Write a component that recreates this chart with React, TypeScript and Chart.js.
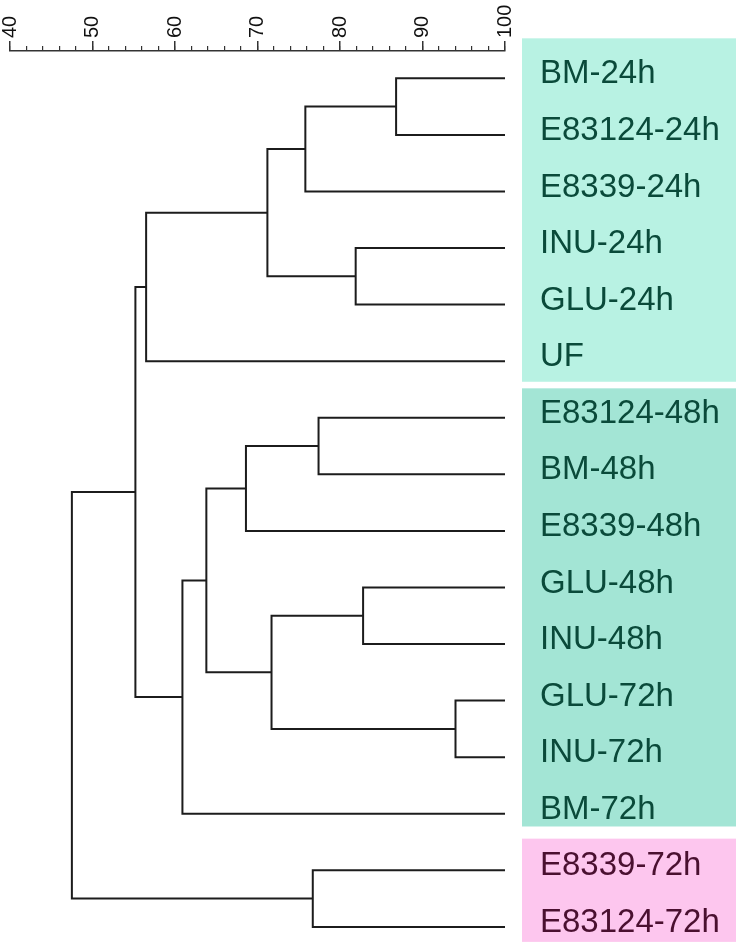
import React, { useEffect, useRef } from "react";
import { Chart, registerables } from "chart.js";

Chart.register(...registerables);

// ---- data ----
const leafLabels = [
  "BM-24h",
  "E83124-24h",
  "E8339-24h",
  "INU-24h",
  "GLU-24h",
  "UF",
  "E83124-48h",
  "BM-48h",
  "E8339-48h",
  "GLU-48h",
  "INU-48h",
  "GLU-72h",
  "INU-72h",
  "BM-72h",
  "E8339-72h",
  "E83124-72h",
];
// merge k creates node id 16 + k from children mergeLeft[k] and mergeRight[k]
const mergeLeft = [0, 16, 3, 17, 19, 6, 21, 9, 11, 23, 22, 26, 20, 14, 28];
const mergeRight = [1, 2, 4, 18, 5, 7, 8, 10, 12, 24, 25, 13, 27, 15, 29];
const mergeSimilarity = [86.8, 75.8, 81.9, 71.2, 56.5, 77.4, 68.6, 82.8, 94.0, 71.7, 63.8, 60.9, 55.2, 76.7, 47.5];
const leafSimilarity = 100;
const majorTickValues = [40, 50, 60, 70, 80, 90, 100];
const minorTickStep = 2;
// group membership (leaf index ranges) for the coloured label panels
const groupFirstLeaf = [0, 6, 14];
const groupLastLeaf = [5, 13, 15];

// ---- styles ----
const FONT = "'Liberation Sans', Arial, Helvetica, sans-serif";
const groupFill = ["#b8f2e3", "#a3e5d5", "#fdc6ee"];
const groupText = ["#0a4a3a", "#0a4a3a", "#4a1030"];
const groupPadTop = [0.707, 0.52, 0.56];
const groupPadBottom = [0.364, 0.225, 0.265];
const PANEL_LEFT = 522;
const PANEL_RIGHT = 736;

function buildLinks() {
  const pos: { x: number; y: number }[] = leafLabels.map((_, i) => ({ x: leafSimilarity, y: i }));
  const links: { x: number; y: number }[][] = [];
  for (let k = 0; k < mergeLeft.length; k++) {
    const a = pos[mergeLeft[k]];
    const b = pos[mergeRight[k]];
    const h = mergeSimilarity[k];
    links.push([
      { x: a.x, y: a.y },
      { x: h, y: a.y },
      { x: h, y: b.y },
      { x: b.x, y: b.y },
    ]);
    pos.push({ x: h, y: (a.y + b.y) / 2 });
  }
  return links;
}

function groupOfLeaf(i: number) {
  for (let g = 0; g < groupFirstLeaf.length; g++) {
    if (i >= groupFirstLeaf[g] && i <= groupLastLeaf[g]) return g;
  }
  return 0;
}

const panelPlugin = {
  id: "panels",
  beforeDraw(chart: any) {
    const ctx = chart.ctx;
    const y = chart.scales.y;
    ctx.save();
    for (let g = 0; g < groupFirstLeaf.length; g++) {
      const top = y.getPixelForValue(groupFirstLeaf[g] - groupPadTop[g]);
      const bottom = y.getPixelForValue(groupLastLeaf[g] + groupPadBottom[g]);
      ctx.fillStyle = groupFill[g];
      ctx.fillRect(PANEL_LEFT, top, PANEL_RIGHT - PANEL_LEFT, bottom - top);
    }
    ctx.restore();
  },
};

export default function App() {
  const canvasRef = useRef<HTMLCanvasElement | null>(null);

  useEffect(() => {
    if (!canvasRef.current) return;
    const links = buildLinks();
    const minorTicks: number[] = [];
    for (let v = majorTickValues[0]; v <= majorTickValues[majorTickValues.length - 1]; v += minorTickStep) minorTicks.push(v);

    const chart = new Chart(canvasRef.current, {
      type: "scatter",
      data: {
        datasets: links.map((pts) => ({
          data: pts,
          showLine: true,
          borderColor: "#1c1c1c",
          borderWidth: 2,
          pointRadius: 0,
          pointHoverRadius: 0,
          borderJoinStyle: "miter",
          borderCapStyle: "butt",
          tension: 0,
          clip: false,
          xAxisID: "x",
          yAxisID: "y",
        })),
      },
      options: {
        animation: false,
        responsive: false,
        maintainAspectRatio: false,
        devicePixelRatio: 1,
        layout: { padding: { left: 10, right: 0, top: 0, bottom: 0 } },
        plugins: { legend: { display: false }, tooltip: { enabled: false } },
        events: [],
        scales: {
          x: {
            type: "linear",
            position: "top",
            min: 40,
            max: 100,
            weight: 1,
            afterBuildTicks: (s: any) => {
              s.ticks = majorTickValues.map((v) => ({ value: v }));
            },
            afterFit: (s: any) => {
              s.height = 51;
              s.paddingLeft = 0;
              s.paddingRight = 0;
            },
            ticks: {
              minRotation: 90,
              maxRotation: 90,
              autoSkip: false,
              padding: 3,
              labelOffset: 24,
              color: "#111111",
              font: { family: FONT, size: 20 },
            },
            grid: { drawOnChartArea: false, tickLength: 10, color: "#333333", lineWidth: 1.5 },
            border: { display: true, color: "#333333", width: 1.5 },
          },
          xMinor: {
            type: "linear",
            axis: "x",
            position: "top",
            min: 40,
            max: 100,
            weight: 0,
            afterBuildTicks: (s: any) => {
              s.ticks = minorTicks.map((v) => ({ value: v }));
            },
            afterFit: (s: any) => {
              s.height = 0;
              s.paddingLeft = 0;
              s.paddingRight = 0;
            },
            ticks: { display: false, autoSkip: false },
            grid: { drawOnChartArea: false, tickLength: 5, color: "#333333", lineWidth: 1.2 },
            border: { display: false },
          },
          y: {
            type: "linear",
            position: "right",
            reverse: true,
            min: -0.483,
            max: 15.32,
            afterBuildTicks: (s: any) => {
              s.ticks = leafLabels.map((_, i) => ({ value: i }));
            },
            afterFit: (s: any) => {
              s.width = 234;
              s.paddingTop = 0;
              s.paddingBottom = 0;
            },
            ticks: {
              autoSkip: false,
              padding: 35,
              labelOffset: -4,
              font: { family: FONT, size: 33 },
              color: (ctx: any) => groupText[groupOfLeaf(ctx.tick ? ctx.tick.value : ctx.index)],
              callback: (v: any) => leafLabels[v] ?? "",
            },
            grid: { display: false, drawTicks: false },
            border: { display: false },
          },
        },
      } as any,
      plugins: [panelPlugin],
    });
    return () => chart.destroy();
  }, []);

  return (
    <div style={{ position: "absolute", left: 0, top: 0, width: 739, height: 945, background: "#ffffff" }}>
      <canvas ref={canvasRef} width={739} height={945} style={{ display: "block", width: 739, height: 945 }} />
    </div>
  );
}
